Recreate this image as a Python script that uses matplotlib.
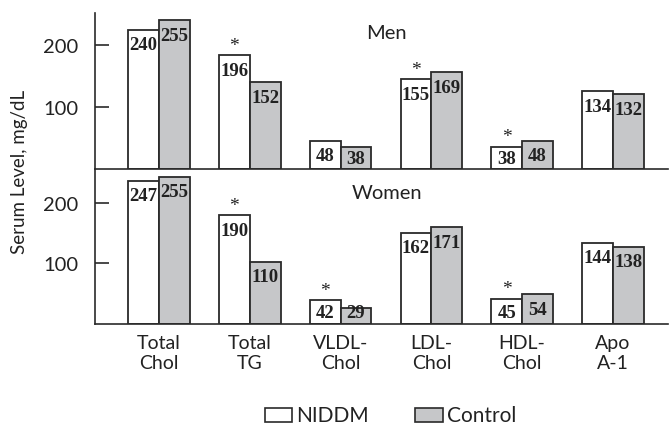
import matplotlib
matplotlib.use("Agg")
import matplotlib.pyplot as plt
from matplotlib.patches import Rectangle
import numpy as np

categories = ["Total\nChol", "Total\nTG", "VLDL-\nChol", "LDL-\nChol", "HDL-\nChol", "Apo\nA-1"]
series_names = ["NIDDM", "Control"]

# bar heights as drawn in the picture
men_niddm = [225, 184, 46, 145, 36, 126]
men_control = [240, 140, 35, 156, 46, 121]
women_niddm = [237, 180, 39, 151, 42, 134]
women_control = [243, 103, 27, 160, 49, 128]

# printed value labels
men_niddm_lbl = ["240", "196", "48", "155", "38", "134"]
men_control_lbl = ["255", "152", "38", "169", "48", "132"]
women_niddm_lbl = ["247", "190", "42", "162", "45", "144"]
women_control_lbl = ["255", "110", "29", "171", "54", "138"]

men_star = [False, True, False, True, True, False]
women_star = [False, True, True, False, True, False]

yticks = [100, 200]

SANS = ["Lato", "DejaVu Sans"]
SERIF = ["Liberation Serif", "DejaVu Serif"]
EDGE = "#2a2a2a"
GREY = "#c6c7c9"
TXT = "#222222"

W, H = 671, 427
fig = plt.figure(figsize=(W / 100, H / 100), dpi=100)

def fx(px):
    return px / W

def fy(py):
    return 1 - py / H

ax1 = fig.add_axes([fx(95), fy(170), fx(668) - fx(95), fy(14) - fy(170)])
ax2 = fig.add_axes([fx(95), fy(325), fx(668) - fx(95), fy(170) - fy(325)])

x = np.arange(len(categories))
bw = 0.34
PT = 72 / 100  # points per pixel

def draw(ax, nid, con, nlbl, clbl, stars, ymax, title, ax_px):
    b1 = ax.bar(x - bw / 2, nid, bw, color="white", edgecolor=EDGE, linewidth=1.3, zorder=2)
    b2 = ax.bar(x + bw / 2, con, bw, color=GREY, edgecolor=EDGE, linewidth=1.3, zorder=2)
    scale = ax_px / ymax
    for bars, lbls in ((b1, nlbl), (b2, clbl)):
        for r, t in zip(bars, lbls):
            hpx = r.get_height() * scale
            off = min(15, hpx - 11)
            ax.annotate(t, (r.get_x() + r.get_width() / 2, r.get_height()),
                        xytext=(0, -off * PT), textcoords="offset points",
                        ha="center", va="center", fontsize=13.5,
                        fontweight="bold", family=SERIF, color=TXT, zorder=3)
    for r, s in zip(b1, stars):
        if s:
            ax.annotate("*", (r.get_x() + r.get_width() / 2, r.get_height()),
                        xytext=(0, 7), textcoords="offset points",
                        ha="center", va="center", fontsize=14,
                        family=SERIF, color=TXT)
    ax.set_xlim(-0.705, 5.606)
    ax.set_ylim(0, ymax)
    ax.set_yticks(yticks)
    ax.set_yticklabels([str(v) for v in yticks], family=SANS, fontsize=14.5, color=TXT)
    ax.tick_params(axis="y", direction="in", length=10, width=1.2, color=EDGE, pad=12)
    ax.tick_params(axis="x", length=0)
    for s in ("top", "right"):
        ax.spines[s].set_visible(False)
    for s in ("left", "bottom"):
        ax.spines[s].set_color(EDGE)
        ax.spines[s].set_linewidth(1.2)
    ax.patch.set_alpha(0)
    return title

draw(ax1, men_niddm, men_control, men_niddm_lbl, men_control_lbl, men_star, 252, "Men", 156)
draw(ax2, women_niddm, women_control, women_niddm_lbl, women_control_lbl, women_star, 256, "Women", 155)
ax1.text(2.51, 221, "Men", ha="center", va="center", family=SANS, fontsize=14.5, color=TXT)
ax2.text(2.51, 217, "Women", ha="center", va="center", family=SANS, fontsize=14.5, color=TXT)

ax1.set_xticks([])
ax2.set_xticks(x)
ax2.set_xticklabels(categories, family=SANS, fontsize=14, color=TXT, linespacing=1.25)
ax2.tick_params(axis="x", pad=7)

fig.text(fx(20), fy(172), "Serum Level, mg/dL", rotation=90, ha="center", va="center",
         family=SANS, fontsize=13.5, color=TXT)

# legend
for (x0, x1, tx), name, fc in (((265, 292, 296), series_names[0], "white"),
                               ((415, 443, 447), series_names[1], GREY)):
    fig.patches.append(Rectangle((fx(x0), fy(423)), fx(x1) - fx(x0), fy(409) - fy(423),
                                 transform=fig.transFigure, facecolor=fc,
                                 edgecolor=EDGE, linewidth=1.2))
    fig.text(fx(tx), fy(416), name, ha="left", va="center", family=SANS,
             fontsize=15, color=TXT)

fig.savefig("out.png", dpi=100)
